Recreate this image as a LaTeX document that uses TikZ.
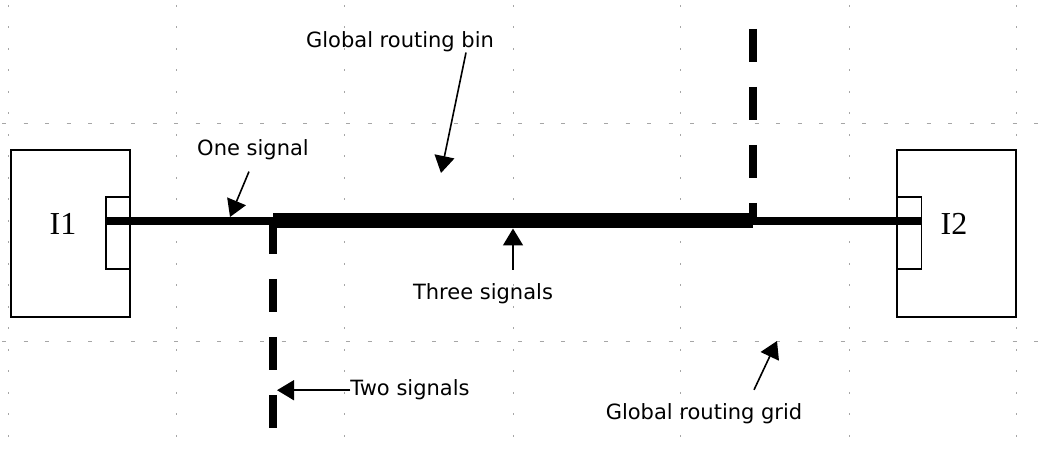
\documentclass[tikz,border=0pt]{standalone}
\usepackage{fontspec}
\setmainfont{Liberation Serif}
\setsansfont{DejaVu Sans}
\usetikzlibrary{arrows.meta}
\begin{document}
\begin{tikzpicture}[x=1pt,y=1pt,
  gridline/.style={gray!70,line width=0.8pt},
  cell/.style={draw,line width=1.2pt,minimum width=119pt,minimum height=167pt,inner sep=0pt},
  pinbox/.style={draw,line width=1.2pt,minimum width=24pt,minimum height=72pt,inner sep=0pt},
  inst/.style={font=\fontsize{32}{36}\selectfont,inner sep=0pt,anchor=base},
  lbl/.style={font=\sffamily\fontsize{21}{24}\selectfont,inner sep=0pt,anchor=base},
  wire/.style={line width=7.5pt},
  bus/.style={line width=15pt},
  cut/.style={line width=8pt,dash pattern=on 33pt off 25pt},
  callout/.style={line width=1.6pt,-{Triangle[length=17pt,width=20pt]}}]
\useasboundingbox (0,0) rectangle (1043,452);
\foreach \x in {8,176,344,513,680,849,1016}
  \draw[gridline,dash pattern=on 2pt off 19.5pt] (\x,447) -- (\x,0);
\foreach \y in {329,111}
  \draw[gridline,dash pattern=on 4pt off 17.5pt] (2,\y) -- (1043,\y);
\node[cell] (cellA) at (70.5,218.5) {};
\node[pinbox] (pinA) at (118,219) {};
\node[inst] (nameA) at (63,217) {I1};
\node[cell] (cellB) at (956.5,218.5) {};
\node[pinbox] (pinB) at (909.5,219) {};
\node[inst] (nameB) at (954,217) {I2};
\coordinate (busL) at (273,231);
\coordinate (busR) at (753,231);
\draw[wire] (pinA.west |- busL) -- (pinB.east |- busR);
\draw[bus] (busL) -- (busR);
\draw[cut] (busL) -- ([yshift=-209pt]busL);
\draw[cut] ([yshift=192pt]busR) -- (busR);
\node[lbl] (binlbl) at (400,404) {Global routing bin};
\node[lbl] (onelbl) at (253,296) {One signal};
\node[lbl] (threelbl) at (483,152) {Three signals};
\node[lbl] (twolbl) at (410,56) {Two signals};
\node[lbl] (gridlbl) at (704,32) {Global routing grid};
\coordinate (binTip) at (441,279);
\coordinate (oneTip) at (230,235);
\coordinate (threeTip) at (513,223.5);
\coordinate (twoTip) at (277,62);
\coordinate (gridTip) at (777,111);
\draw[callout] ([xshift=66pt]binlbl.south) -- (binTip);
\draw[callout] ([xshift=-4pt,yshift=-11pt]onelbl.south) -- (oneTip);
\draw[callout] ([xshift=30pt,yshift=14pt]threelbl.north) -- (threeTip);
\draw[callout] (twolbl.west) -- (twolbl.west -| twoTip);
\draw[callout] ([xshift=50pt,yshift=14pt]gridlbl.north) -- (gridTip);
\end{tikzpicture}
\end{document}
